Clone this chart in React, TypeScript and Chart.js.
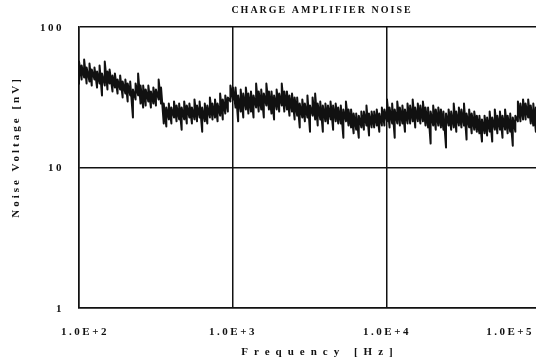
import React, { useEffect, useRef } from "react";
import { Chart, registerables } from "chart.js";

Chart.register(...registerables);

// ---- data ----
const frequencies = [
  100, 104, 108, 112, 117, 121, 126, 131, 136, 141,
  147, 153, 158, 165, 171, 178, 185, 192, 200, 207,
  215, 224, 233, 242, 251, 261, 271, 282, 293, 304,
  316, 329, 341, 355, 369, 383, 398, 414, 430, 447,
  464, 482, 501, 521, 541, 562, 584, 607, 631, 656,
  681, 708, 736, 764, 794, 825, 858, 891, 926, 962,
  1000, 1039, 1080, 1122, 1166, 1212, 1259, 1308, 1359, 1413,
  1468, 1525, 1585, 1647, 1711, 1778, 1848, 1920, 1995, 2073,
  2154, 2239, 2326, 2417, 2512, 2610, 2712, 2818, 2929, 3043,
  3162, 3286, 3415, 3548, 3687, 3831, 3981, 4137, 4299, 4467,
  4642, 4823, 5012, 5208, 5412, 5623, 5843, 6072, 6310, 6557,
  6813, 7079, 7356, 7644, 7943, 8254, 8577, 8913, 9261, 9624,
  10000, 10390, 10800, 11220, 11660, 12120, 12590, 13080, 13590, 14130,
  14680, 15250, 15850, 16470, 17110, 17780, 18480, 19200, 19950, 20730,
  21540, 22390, 23260, 24170, 25120, 26100, 27120, 28180, 29290, 30430,
  31620, 32860, 34150, 35480, 36870, 38310, 39810, 41370, 42990, 44670,
  46420, 48230, 50120, 52080, 54120, 56230, 58430, 60720, 63100, 65570,
  68130, 70790, 73560, 76440, 79430, 82540, 85770, 89130, 92610, 96240,
  100000,
];

// noise peaks (upper swing) per frequency, nV
const noiseUpper = [
  56.8, 53.2, 58.7, 51.5, 55.0, 49.8, 51.5, 48.2, 53.2, 46.7,
  56.8, 48.2, 49.8, 45.2, 46.7, 42.3, 45.2, 40.9, 42.3, 39.6,
  40.9, 35.9, 39.6, 46.7, 38.3, 38.3, 35.9, 38.3, 34.8, 37.1,
  35.9, 42.3, 37.1, 28.5, 26.7, 28.5, 26.7, 29.5, 27.6, 28.5,
  26.7, 29.5, 27.6, 28.5, 26.7, 30.5, 27.6, 29.5, 26.7, 28.5,
  27.6, 31.5, 28.5, 30.5, 28.5, 33.6, 30.5, 32.6, 31.5, 38.3,
  37.1, 37.1, 32.6, 35.9, 33.6, 37.1, 33.6, 34.8, 32.6, 39.6,
  34.8, 35.9, 33.6, 39.6, 34.8, 34.8, 32.6, 35.9, 33.6, 39.6,
  34.8, 34.8, 32.6, 33.6, 31.5, 31.5, 28.5, 30.5, 28.5, 32.6,
  27.6, 31.5, 33.6, 28.5, 29.5, 27.6, 28.5, 27.6, 29.5, 27.6,
  28.5, 26.7, 27.6, 25.9, 29.5, 25.9, 25.9, 24.2, 24.2, 23.4,
  25.0, 25.0, 27.6, 24.2, 25.0, 25.0, 25.9, 24.2, 26.7, 25.9,
  30.5, 26.7, 28.5, 25.9, 29.5, 26.7, 27.6, 25.9, 28.5, 27.6,
  30.5, 26.7, 28.5, 27.6, 29.5, 26.7, 26.7, 25.0, 27.6, 25.9,
  26.7, 25.9, 25.0, 24.2, 25.9, 25.0, 28.5, 25.0, 26.7, 25.9,
  28.5, 24.2, 25.9, 24.2, 25.0, 23.4, 23.4, 22.0, 23.4, 22.7,
  25.0, 22.7, 25.9, 23.4, 25.0, 23.4, 25.9, 23.4, 24.2, 22.7,
  23.4, 29.5, 28.5, 30.5, 28.5, 30.5, 27.6, 28.5, 26.7, 28.5,
  26.7,
];

// noise troughs (lower swing) per frequency, nV
const noiseLower = [
  39.0, 42.3, 43.7, 39.6, 40.9, 38.3, 42.3, 37.1, 39.6, 32.6,
  38.3, 35.9, 39.6, 34.8, 37.1, 33.6, 35.9, 31.5, 33.6, 29.5,
  32.6, 22.7, 30.5, 32.6, 28.5, 26.7, 27.6, 29.5, 26.7, 28.5,
  27.6, 30.5, 28.5, 20.6, 19.6, 22.0, 20.6, 22.7, 21.3, 22.0,
  18.6, 22.0, 20.6, 22.7, 20.6, 22.0, 21.3, 22.7, 18.0, 21.3,
  20.6, 22.7, 22.0, 22.7, 21.3, 23.4, 22.0, 24.2, 25.0, 29.5,
  30.5, 26.7, 21.3, 25.0, 22.7, 25.9, 24.2, 25.0, 22.7, 26.7,
  25.0, 25.9, 22.7, 27.6, 25.9, 24.2, 22.0, 25.9, 25.0, 27.6,
  25.0, 25.9, 23.4, 25.0, 22.0, 23.4, 19.3, 22.7, 21.3, 22.7,
  18.0, 23.4, 22.0, 19.9, 22.0, 18.0, 21.3, 20.6, 22.0, 18.6,
  21.3, 20.6, 20.6, 16.3, 21.3, 19.9, 19.3, 17.5, 18.6, 16.3,
  19.3, 18.6, 19.9, 16.9, 19.3, 19.3, 19.9, 18.0, 19.9, 19.9,
  21.3, 19.3, 20.6, 16.3, 20.6, 19.9, 20.6, 18.0, 20.6, 20.6,
  21.3, 19.3, 21.3, 20.6, 21.3, 19.9, 19.3, 14.8, 19.9, 18.6,
  19.9, 19.3, 18.6, 13.9, 19.9, 18.6, 19.3, 18.0, 19.9, 19.3,
  19.9, 15.8, 19.3, 17.5, 18.6, 18.0, 17.5, 15.3, 17.5, 16.9,
  18.0, 15.3, 18.6, 17.5, 18.6, 16.3, 18.6, 17.5, 18.0, 14.3,
  18.0, 21.3, 21.3, 22.0, 22.0, 22.7, 20.6, 19.9, 18.0, 20.6,
  21.3,
];

const xTickValues = [100, 1000, 10000, 100000];
const xTickLabels = ["1.0E+2", "1.0E+3", "1.0E+4", "1.0E+5"];
const yTickValues = [1, 10, 100];
const yTickLabels = ["1", "10", "100"];

const chartTitle = "CHARGE AMPLIFIER NOISE";
const xTitle = "Frequency [Hz]";
const yTitle = "Noise Voltage [nV]";

// ---- layout ----
const VIEW_W = 536;
const CANVAS_W = 548;
const CANVAS_H = 361;
const PLOT_LEFT = 79;
const PLOT_RIGHT = 541;
const PLOT_TOP = 27;
const PLOT_BOTTOM = 308;
const INK = "#111";
const FONT = '"Liberation Serif", "Times New Roman", serif';

// trace: at each frequency the signal swings from trough up to peak, then falls to the next trough
const tracePoints: { x: number; y: number }[] = [];
frequencies.forEach((f, i) => {
  tracePoints.push({ x: f, y: noiseLower[i] }, { x: f, y: noiseUpper[i] });
});

const textPlugin = {
  id: "textPlugin",
  afterDraw(chart: any) {
    const { ctx, chartArea, scales } = chart;
    const xs = scales.x;
    const ys = scales.y;
    ctx.save();
    ctx.fillStyle = INK;
    ctx.textBaseline = "middle";
    const setFont = (size: number, spacing: number) => {
      ctx.font = `bold ${size}px ${FONT}`;
      (ctx as any).letterSpacing = spacing + "px";
    };

    // title
    setFont(10, 2);
    ctx.textAlign = "center";
    ctx.fillText(chartTitle, 322, 10);

    // x tick labels
    setFont(11, 2.5);
    ctx.textAlign = "center";
    xTickValues.forEach((v, i) => {
      const label = xTickLabels[i];
      const w = ctx.measureText(label).width;
      let cx = xs.getPixelForValue(v) + (i === 0 ? 6 : 0);
      const maxCx = VIEW_W - 2 - w / 2;
      if (cx > maxCx) cx = maxCx;
      ctx.fillText(label, cx, chartArea.bottom + 24);
    });

    // y tick labels
    ctx.textAlign = "right";
    yTickValues.forEach((v, i) => {
      ctx.fillText(yTickLabels[i], chartArea.left - 15, ys.getPixelForValue(v) + 1);
    });

    // x title
    setFont(11, 6);
    ctx.textAlign = "center";
    ctx.fillText(xTitle, 320, chartArea.bottom + 44);

    // y title
    setFont(11, 3);
    ctx.translate(16, 147);
    ctx.rotate(-Math.PI / 2);
    ctx.textAlign = "center";
    ctx.fillText(yTitle, 0, 0);
    ctx.restore();
  },
};

export default function App() {
  const canvasRef = useRef<HTMLCanvasElement | null>(null);

  useEffect(() => {
    const canvas = canvasRef.current;
    if (!canvas) return;
    const chart = new Chart(canvas, {
      type: "line",
      data: {
        datasets: [
          {
            data: tracePoints,
            borderColor: INK,
            borderWidth: 2,
            borderJoinStyle: "round",
            pointRadius: 0,
            tension: 0,
            fill: false,
          },
        ],
      },
      options: {
        responsive: false,
        animation: false,
        devicePixelRatio: 1,
        layout: {
          padding: { top: PLOT_TOP, right: CANVAS_W - PLOT_RIGHT, left: 0, bottom: 0 },
        },
        plugins: {
          legend: { display: false },
          title: { display: false },
          tooltip: { enabled: false },
        },
        scales: {
          x: {
            type: "logarithmic",
            min: 100,
            max: 100000,
            afterBuildTicks: (s: any) => {
              s.ticks = xTickValues.map((v) => ({ value: v }));
            },
            afterFit: (s: any) => {
              s.height = CANVAS_H - PLOT_BOTTOM;
            },
            ticks: { display: false },
            grid: { color: INK, lineWidth: 1.5, drawTicks: false },
            border: { color: INK, width: 1.5 },
          },
          y: {
            type: "logarithmic",
            min: 1,
            max: 100,
            afterBuildTicks: (s: any) => {
              s.ticks = yTickValues.map((v) => ({ value: v }));
            },
            afterFit: (s: any) => {
              s.width = PLOT_LEFT;
            },
            ticks: { display: false },
            grid: { color: INK, lineWidth: 1.5, drawTicks: false },
            border: { color: INK, width: 1.5 },
          },
        },
      } as any,
      plugins: [textPlugin],
    });
    return () => chart.destroy();
  }, []);

  return (
    <div
      style={{
        position: "fixed",
        left: 0,
        top: 0,
        width: VIEW_W,
        height: CANVAS_H,
        overflow: "hidden",
        background: "#fff",
      }}
    >
      <canvas
        ref={canvasRef}
        width={CANVAS_W}
        height={CANVAS_H}
        style={{ display: "block", width: CANVAS_W, height: CANVAS_H }}
      />
    </div>
  );
}
